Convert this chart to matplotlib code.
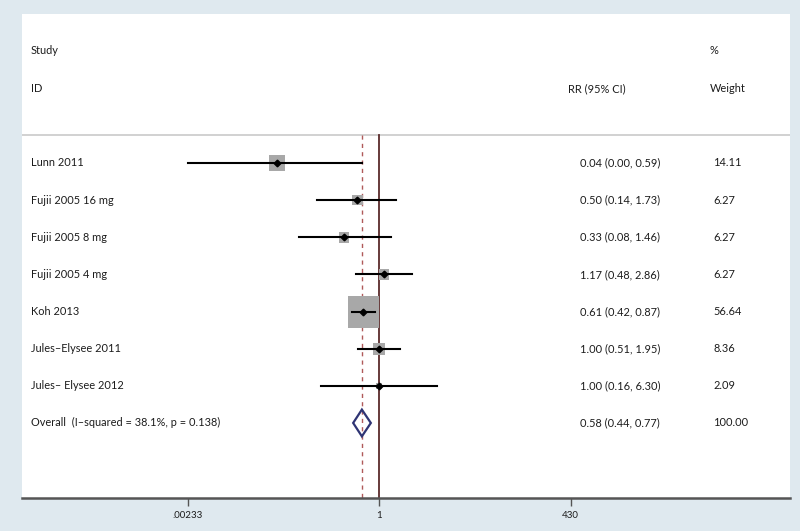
import matplotlib
matplotlib.use("Agg")
import matplotlib.pyplot as plt
from matplotlib.patches import Polygon
import numpy as np

studies = ["Lunn 2011", "Fujii 2005 16 mg", "Fujii 2005 8 mg", "Fujii 2005 4 mg",
           "Koh 2013", "Jules\u2013Elysee 2011", "Jules\u2013 Elysee 2012"]
rr = [0.04, 0.50, 0.33, 1.17, 0.61, 1.00, 1.00]
lo = [0.00233, 0.14, 0.08, 0.48, 0.42, 0.51, 0.16]
hi = [0.59, 1.73, 1.46, 2.86, 0.87, 1.95, 6.30]
rr_text = ["0.04 (0.00, 0.59)", "0.50 (0.14, 1.73)", "0.33 (0.08, 1.46)",
           "1.17 (0.48, 2.86)", "0.61 (0.42, 0.87)", "1.00 (0.51, 1.95)",
           "1.00 (0.16, 6.30)"]
weights = [14.11, 6.27, 6.27, 6.27, 56.64, 8.36, 2.09]
weight_text = ["14.11", "6.27", "6.27", "6.27", "56.64", "8.36", "2.09"]
overall_label = "Overall  (I\u2013squared = 38.1%, p = 0.138)"
overall = (0.58, 0.44, 0.77)
overall_text = "0.58 (0.44, 0.77)"
overall_weight = "100.00"
xticks = [0.00233, 1, 430]
xticklabels = [".00233", "1", "430"]

plt.rcParams['font.family'] = ['Lato', 'DejaVu Sans']
bg = "#dfe9ef"
tc = "#1c1c1c"
fig = plt.figure(figsize=(8, 5.31), dpi=100, facecolor=bg)
ax = fig.add_axes([22/800, 33/531, 768/800, 484/531])
ax.set_facecolor("white")
ax.set_xscale("log")
ax.set_xlim(10**-4.91, 10**5.65)
ax.set_ylim(9.02, -4.01)

fs = 7.9
yt = ax.get_yaxis_transform()
def fx(px):
    return (px - 22) / 768

def txt(px, y, s):
    ax.text(fx(px), y, s, transform=yt, ha="left", va="center", fontsize=fs, color=tc)

txt(31, -3.02, "Study")
txt(31, -2.0, "ID")
txt(568, -2.0, "RR (95% CI)")
txt(710, -3.02, "%")
txt(710, -2.0, "Weight")

ax.axhline(-0.75, color="#c9c9c9", lw=1.2)

# reference lines
ax.plot([1, 1], [-0.75, 9.02], color="#5a2b2b", lw=1.3, zorder=2)
ax.plot([overall[0]]*2, [-0.75, 9.02], color="#b05a5a", lw=1.0, ls=(0, (3, 3)), zorder=2)

ys = np.arange(len(studies))
sizes = [(23.0**2) * w / 56.64 for w in weights]
ax.scatter(rr, ys, s=sizes, marker="s", color="#a8a8a8", zorder=3, linewidths=0)
for i in range(len(studies)):
    ax.plot([lo[i], hi[i]], [ys[i], ys[i]], color="black", lw=1.5, zorder=4)
ax.plot(rr, ys, ls="none", marker="D", ms=3.4, color="black", zorder=5)

for i, s in enumerate(studies):
    txt(31, ys[i], s)
    txt(580, ys[i], rr_text[i])
    txt(713, ys[i], weight_text[i])

yo = len(studies)
dia = Polygon([[overall[1], yo], [overall[0], yo - 0.36], [overall[2], yo], [overall[0], yo + 0.36]],
              closed=True, fill=False, edgecolor="#2f3474", lw=1.6, zorder=5)
ax.add_patch(dia)
txt(31, yo, overall_label)
txt(580, yo, overall_text)
txt(713, yo, overall_weight)

for sp in ["top", "left", "right"]:
    ax.spines[sp].set_visible(False)
ax.spines["bottom"].set_color("#555555")
ax.spines["bottom"].set_linewidth(1.8)
ax.set_yticks([])
ax.set_xticks(xticks)
ax.set_xticklabels(xticklabels)
ax.xaxis.set_minor_locator(matplotlib.ticker.NullLocator())
ax.tick_params(axis="x", length=6, width=1.0, color="#555555", labelsize=7,
               labelcolor=tc, pad=3)

fig.savefig("out.png", dpi=100, facecolor=bg)
